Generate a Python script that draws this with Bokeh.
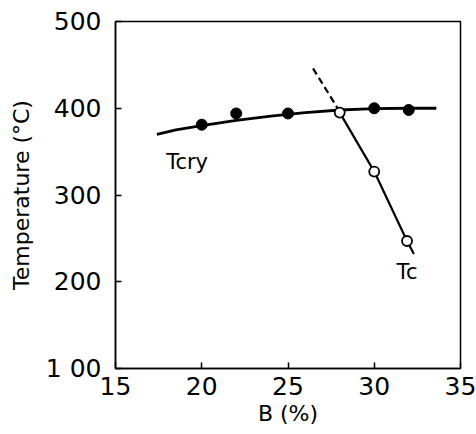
from bokeh.plotting import figure
from bokeh.models import Range1d, FixedTicker
from bokeh.core.properties import value
from bokeh.embed import file_html
from bokeh.resources import INLINE

# Tcry measured points (filled) and smooth curve
tcry_x = [20, 22, 25, 30, 32]
tcry_y = [381, 394, 394, 400, 398]
tcry_curve_x = [17.4, 18.5, 20, 22, 24, 26, 28, 30, 32, 33.6]
tcry_curve_y = [370, 375, 380, 386, 391, 395, 398, 399.5, 400, 400]

# Tc measured points (open) and line
tc_x = [28.0, 30, 31.9]
tc_y = [395, 327, 247]
tc_line_x = [28.0, 30, 31.9, 32.3]
tc_line_y = [395, 327, 247, 232]
tc_dash_x = [26.45, 28.0]
tc_dash_y = [446, 396]

label_text = ["Tcry", "Tc"]
label_x = [19.15, 31.9]
label_y = [338, 211]

x_ticks = [15, 20, 25, 30, 35]
y_ticks = [100, 200, 300, 400, 500]
y_tick_labels = {100: "1 00", 200: "200", 300: "300", 400: "400", 500: "500"}

FONT = "DejaVu Sans"

p = figure(width=476, height=434, output_backend="svg", toolbar_location=None,
           x_range=Range1d(15, 35), y_range=Range1d(100, 500),
           min_border_left=115, min_border_right=16, min_border_top=21, min_border_bottom=66)

p.xgrid.visible = False
p.ygrid.visible = False
p.outline_line_color = "black"
p.outline_line_width = 1.5
p.background_fill_color = "white"
p.border_fill_color = "white"

for ax in (p.xaxis[0], p.yaxis[0]):
    ax.axis_line_width = 1.5
    ax.axis_line_color = "black"
    ax.major_tick_in = 6
    ax.major_tick_out = 0
    ax.major_tick_line_width = 1.5
    ax.minor_tick_line_color = None
    ax.major_label_text_font = FONT
    ax.major_label_text_font_size = "25px"
    ax.major_label_text_color = "black"
    ax.axis_label_text_font = FONT
    ax.axis_label_text_font_size = "22px"
    ax.axis_label_text_font_style = "normal"
    ax.axis_label_text_color = "black"

p.xaxis.ticker = FixedTicker(ticks=x_ticks)
p.yaxis.ticker = FixedTicker(ticks=y_ticks)
p.yaxis.major_label_overrides = y_tick_labels
p.xaxis.axis_label = "B (%)"
p.yaxis.axis_label = "Temperature (°C)"
p.xaxis.major_label_standoff = 8
p.yaxis.major_label_standoff = 14
p.xaxis.axis_label_standoff = 3
p.yaxis.axis_label_standoff = 9

p.line(tcry_curve_x, tcry_curve_y, line_color="black", line_width=2.8)
p.line(tc_line_x, tc_line_y, line_color="black", line_width=2.2)
p.line(tc_dash_x, tc_dash_y, line_color="black", line_width=2.2, line_dash="7 4")

p.scatter(tcry_x, tcry_y, size=11, fill_color="black", line_color="black")
p.scatter(tc_x, tc_y, size=10, fill_color="white", line_color="black", line_width=1.8)

p.text(label_x, label_y, text=label_text, text_font=value(FONT), text_font_size="21px",
       text_align="center", text_baseline="middle", text_color="black")

open("out.html", "w").write(file_html(p, INLINE))
